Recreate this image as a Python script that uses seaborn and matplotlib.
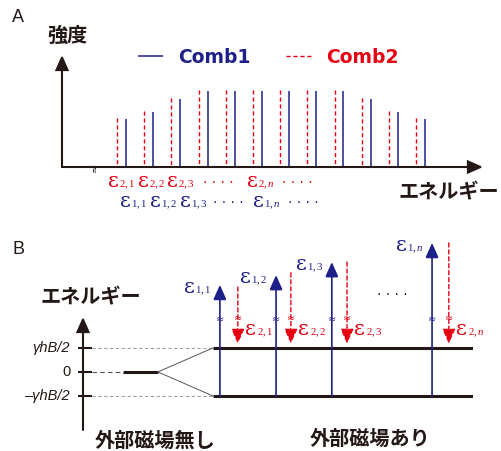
import numpy as np
import pandas as pd
import seaborn as sns
import matplotlib
matplotlib.use('Agg')
import matplotlib.pyplot as plt

# ---- panel A: two combs (line index, relative intensity)
comb_index = [1, 2, 3, 4, 5, 6, 7, 8, 9, 10, 11, 12]
comb1_intensity = [0.63, 0.72, 0.89, 1.00, 1.00, 1.00, 1.00, 1.00, 1.00, 0.89, 0.72, 0.63]
comb2_intensity = [0.64, 0.73, 0.90, 1.01, 1.01, 1.01, 1.01, 1.01, 1.01, 0.90, 0.73, 0.64]
comb2_offset = -0.33
eps_subs = ['1', '2', '3', 'n']
eps2_label_x = [0.34, 1.44, 2.51, 5.45]
eps1_label_x = [0.78, 1.88, 2.99, 5.67]
eps2_dots_x = [4.38, 7.29]
eps1_dots_x = [4.75, 7.54]

# ---- panel B: split levels and transitions
level_values = [1, 0, -1]
level_labels = ['γhB/2', '0', '–γhB/2']
up_x = [0.351, 0.495, 0.638, 0.895]
up_top = [3.63, 4.04, 4.58, 5.38]
down_x = [0.397, 0.533, 0.677, 0.938]
down_top = [3.54, 4.13, 4.58, 5.38]
down_tip = 1.18

blue = '#1d2088'
red = '#e60012'
black = '#231815'
W, H = 502, 451

sns.set_theme(style='white')
plt.rcParams['font.family'] = ['Noto Sans CJK JP', 'DejaVu Sans']
plt.rcParams['mathtext.fontset'] = 'custom'
plt.rcParams['mathtext.rm'] = 'Liberation Serif'
plt.rcParams['mathtext.it'] = 'Liberation Serif:italic'


def fx(px):
    return px / W


def fy(py):
    return 1 - py / H


def eps_label(ax, x, y, sub, color):
    a, b = sub.split(',')
    if b == 'n':
        s = r'$\mathrm{%s,}\mathit{n}$' % a
    else:
        s = r'$\mathrm{%s,%s}$' % (a, b)
    t = ax.text(x, y, 'ε', family='DejaVu Serif', fontsize=15, color=color,
                ha='left', va='baseline', clip_on=False)
    ax.annotate(s, xy=(1, 0), xycoords=t, xytext=(0.4, 2.7), textcoords='offset points',
                fontsize=7.8, color=color, ha='left', va='baseline', annotation_clip=False)


def arrow_props(color, lw, ls='-'):
    return dict(arrowstyle='-|>,head_length=0.9,head_width=0.4', mutation_scale=10,
                color=color, lw=lw, linestyle=ls, shrinkA=0, shrinkB=0, joinstyle='miter')


fig = plt.figure(figsize=(5.02, 4.51), dpi=100)

# ================= panel A =================
axA = fig.add_axes([fx(62), fy(167), 421 / W, 112 / H])
axA.set_xlim(-1.35, 14.13)
axA.set_ylim(0, 1.47)
axA.axis('off')

df = pd.DataFrame({'idx': comb_index, 'c1': comb1_intensity, 'c2': comb2_intensity})
h1 = axA.vlines(df['idx'], 0, df['c1'], colors=blue, lw=1.1, label='Comb1')
# dashed lines drawn top-down so the dash pattern starts at the peak
h2 = axA.vlines(df['idx'] + comb2_offset, df['c2'], 0, colors=red, lw=1.0,
                linestyles=(0, (3, 2)), label='Comb2')

axA.annotate('', xy=(14.13, 0), xytext=(-1.35, 0), arrowprops=arrow_props(black, 1.5),
             annotation_clip=False)
axA.annotate('', xy=(-1.35, 1.47), xytext=(-1.35, 0), arrowprops=arrow_props(black, 1.5),
             annotation_clip=False)
axA.text(-0.14, 0, '≈', rotation=90, fontsize=8, ha='center', va='center', color=black,
         family='DejaVu Sans')

leg = axA.legend(handles=[h1, h2], labels=['Comb1', 'Comb2'], ncol=2, loc='center left',
                 bbox_to_anchor=(0.1805, 0.982), frameon=False,
                 prop=dict(family='DejaVu Sans', weight='bold', size=13.5),
                 labelcolor=[blue, red], handlelength=1.35, handletextpad=0.8,
                 columnspacing=1.9, borderpad=0, borderaxespad=0)

for s, x2, x1 in zip(eps_subs, eps2_label_x, eps1_label_x):
    eps_label(axA, x2, -0.263, '2,' + s, red)
    eps_label(axA, x1, -0.526, '1,' + s, blue)
for x in eps2_dots_x:
    axA.text(x, -0.263, '· · · ·', color=red, fontsize=10, ha='center', va='baseline',
             family='DejaVu Sans')
for x in eps1_dots_x:
    axA.text(x, -0.526, '· · · ·', color=blue, fontsize=10, ha='center', va='baseline',
             family='DejaVu Sans')

fig.text(fx(12), fy(17), 'A', fontsize=13, family='Liberation Sans', color=black,
         ha='left', va='center')
fig.text(fx(47), fy(35), '強度', fontsize=14.5, weight='bold', color=black,
         ha='left', va='center')
fig.text(fx(499), fy(192), 'エネルギー', fontsize=14.5, weight='bold', color=black,
         ha='right', va='center')

# ================= panel B =================
axB = fig.add_axes([fx(83), fy(430), 390 / W, 113 / H])
axB.set_xlim(0, 1)
axB.set_ylim(-2.42, 2.29)
axB.axis('off')

axB.annotate('', xy=(0, 2.29), xytext=(0, -2.42), arrowprops=arrow_props(black, 1.5),
             annotation_clip=False)
axB.hlines(level_values, -0.013, 0.023, colors=black, lw=1.5, clip_on=False)
for v, lab in zip(level_values, level_labels):
    axB.text(-0.033, v, lab, fontsize=10.5, family='Liberation Sans',
             style='normal' if v == 0 else 'italic', color=black,
             ha='right', va='center', clip_on=False)

axB.hlines([level_values[0], level_values[2]], 0.023, 0.333, colors='#8c8c8c', lw=0.6,
           linestyles=(0, (4, 3)))
axB.hlines(level_values[1], 0.023, 0.103, colors='#555555', lw=0.8, linestyles=(0, (4, 3)))
axB.hlines(level_values[1], 0.103, 0.192, colors=black, lw=2.2)
axB.plot([0.192, 0.333], [level_values[1], level_values[0]], color='#555555', lw=0.7)
axB.plot([0.192, 0.333], [level_values[1], level_values[2]], color='#555555', lw=0.7)
axB.hlines([level_values[0], level_values[2]], 0.333, 1.0, colors=black, lw=2.2, zorder=2)

for x, top, s in zip(up_x, up_top, eps_subs):
    axB.annotate('', xy=(x, top), xytext=(x, level_values[2]),
                 arrowprops=arrow_props(blue, 1.2), zorder=3, annotation_clip=False)
    axB.text(x, 2.2, '≈', fontsize=7, color=blue, ha='center', va='center', zorder=4,
             family='DejaVu Sans')
    eps_label(axB, x - 0.093, top - 0.33, '1,' + s, blue)

for x, top, s in zip(down_x, down_top, eps_subs):
    axB.annotate('', xy=(x, down_tip), xytext=(x, top),
                 arrowprops=arrow_props(red, 1.0, (0, (3, 2))), zorder=3,
                 annotation_clip=False)
    axB.text(x, 2.25, '≈', fontsize=7, color=red, ha='center', va='center', zorder=4,
             family='DejaVu Sans')
    eps_label(axB, x + 0.019, 1.55, '2,' + s, red)

axB.text(0.792, 3.2, '· · · ·', fontsize=10, color=black, ha='center', va='center',
         family='DejaVu Sans', clip_on=False)

fig.text(fx(13), fy(250), 'B', fontsize=13, family='Liberation Sans', color=black,
         ha='left', va='center')
fig.text(fx(91), fy(297), 'エネルギー', fontsize=14.5, weight='bold', color=black,
         ha='center', va='center')
fig.text(fx(155), fy(440), '外部磁場無し', fontsize=14.5, weight='bold', color=black,
         ha='center', va='center')
fig.text(fx(370), fy(438), '外部磁場あり', fontsize=14.5, weight='bold', color=black,
         ha='center', va='center')

fig.savefig('out.png', dpi=100)
